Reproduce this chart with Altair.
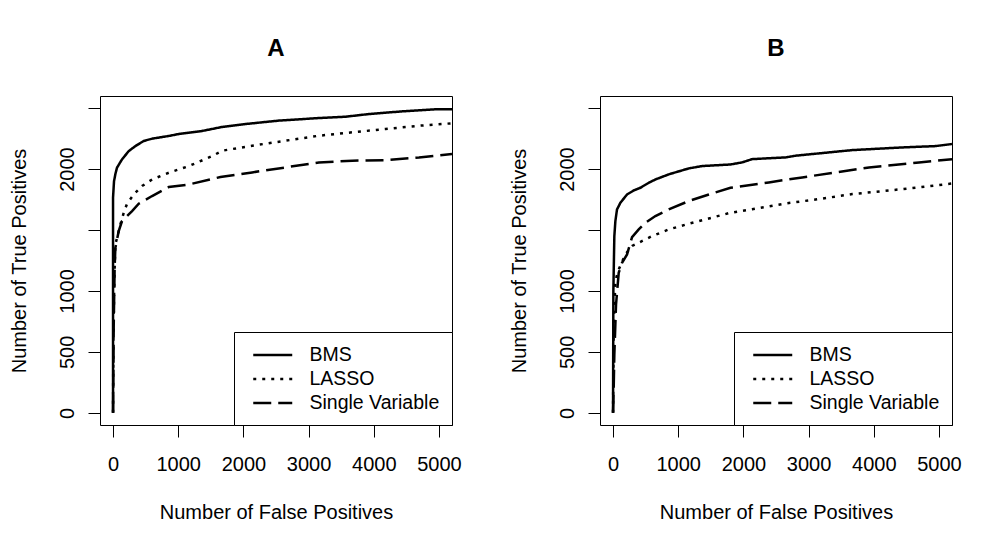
import altair as alt
import pandas as pd

SERIES = ["BMS", "LASSO", "Single Variable"]

# Panel A
A_bms_x = [0, 0, 15, 36, 61, 138, 241, 343, 471, 600, 855, 1008, 1367, 1674, 2032, 2544, 3158, 3567, 3926, 4437, 4949, 5200]
A_bms_y = [0, 1767, 1900, 1960, 2012, 2080, 2148, 2189, 2231, 2250, 2272, 2288, 2313, 2346, 2370, 2398, 2419, 2430, 2452, 2474, 2491, 2491]
A_lasso_x = [0, 5, 20, 36, 113, 164, 215, 318, 445, 599, 855, 1163, 1521, 1674, 2134, 2646, 3158, 3670, 4181, 4693, 5200]
A_lasso_y = [0, 600, 1100, 1382, 1546, 1642, 1716, 1792, 1861, 1915, 1970, 2025, 2107, 2151, 2192, 2233, 2274, 2302, 2329, 2356, 2376]
A_sv_x = [0, 10, 25, 36, 87, 138, 292, 394, 599, 855, 1163, 1648, 2134, 2646, 3158, 3670, 4181, 4693, 5200]
A_sv_y = [0, 700, 1200, 1355, 1491, 1574, 1656, 1716, 1779, 1853, 1874, 1935, 1973, 2014, 2055, 2069, 2074, 2096, 2124]

# Panel B
B_bms_x = [0, 5, 20, 36, 61, 113, 215, 318, 420, 548, 650, 855, 1163, 1367, 1802, 1980, 2134, 2646, 2800, 3158, 3670, 4437, 4949, 5200]
B_bms_y = [0, 1000, 1450, 1574, 1669, 1724, 1792, 1825, 1847, 1888, 1915, 1957, 2006, 2025, 2038, 2055, 2082, 2096, 2110, 2129, 2156, 2178, 2189, 2206]
B_lasso_x = [0, 10, 36, 77, 189, 292, 394, 599, 855, 1163, 1470, 1802, 2134, 2646, 3158, 3670, 4181, 4693, 5200]
B_lasso_y = [0, 700, 1081, 1163, 1300, 1369, 1396, 1450, 1505, 1552, 1595, 1642, 1671, 1718, 1754, 1795, 1822, 1850, 1882]
B_sv_x = [0, 10, 20, 46, 87, 138, 215, 292, 394, 496, 650, 855, 1163, 1470, 1802, 2390, 2902, 3414, 3926, 4693, 5200]
B_sv_y = [0, 200, 479, 889, 1149, 1231, 1300, 1442, 1505, 1560, 1615, 1669, 1738, 1792, 1847, 1891, 1932, 1973, 2014, 2055, 2082]

X_TICKS = [0, 1000, 2000, 3000, 4000, 5000]
Y_TICKS = [0, 500, 1000, 1500, 2000, 2500]
FONT = "Liberation Sans"


def make_df(parts):
    rows = []
    for name, xs, ys in parts:
        for i, (x, y) in enumerate(zip(xs, ys)):
            rows.append({"series": name, "fp": x, "tp": y, "idx": i})
    return pd.DataFrame(rows)


def panel(label, df):
    return (
        alt.Chart(df)
        .mark_line(clip=True, color="black", strokeWidth=2.5)
        .encode(
            x=alt.X(
                "fp:Q",
                scale=alt.Scale(domain=[-200, 5200], nice=False, zero=False),
                axis=alt.Axis(
                    values=X_TICKS,
                    format="d",
                    title="Number of False Positives",
                    labelBaseline="alphabetic",
                    labelPadding=33,
                    labelFlush=False,
                    labelOverlap=False,
                    titleBaseline="alphabetic",
                    titleY=93,
                ),
            ),
            y=alt.Y(
                "tp:Q",
                scale=alt.Scale(domain=[-100, 2600], nice=False, zero=False),
                axis=alt.Axis(
                    values=Y_TICKS,
                    format="d",
                    labelExpr="(datum.value == 1500 || datum.value == 2500) ? '' : datum.label",
                    title="Number of True Positives",
                    labelAngle=270,
                    labelAlign="center",
                    labelBaseline="alphabetic",
                    labelPadding=15,
                    labelFlush=False,
                    labelOverlap=False,
                    titleAngle=270,
                    titleAlign="center",
                    titleBaseline="alphabetic",
                    titleX=-75,
                    titleY=164.5,
                ),
            ),
            strokeDash=alt.StrokeDash(
                "series:N",
                scale=alt.Scale(domain=SERIES, range=[[1, 0], [3, 6], [18, 7]]),
                legend=alt.Legend(
                    title=None,
                    orient="bottom-right",
                    offset=0,
                    strokeColor="black",
                    fillColor="white",
                    padding=12,
                    symbolType="M-0.385,0H3.615",
                    symbolSize=380,
                    symbolStrokeWidth=2.5,
                    symbolStrokeColor="black",
                    labelFontSize=19.5,
                    labelFont=FONT,
                    labelColor="black",
                    labelOffset=41.5,
                    labelLimit=0,
                    rowPadding=3,
                    cornerRadius=0,
                ),
            ),
            order="idx:Q",
        )
        .properties(
            width=352,
            height=329,
            title=alt.TitleParams(
                text=label, fontSize=24, fontWeight="bold", font=FONT,
                color="black", anchor="middle", baseline="alphabetic", offset=16,
            ),
        )
    )


dfA = make_df([("BMS", A_bms_x, A_bms_y), ("LASSO", A_lasso_x, A_lasso_y), ("Single Variable", A_sv_x, A_sv_y)])
dfB = make_df([("BMS", B_bms_x, B_bms_y), ("LASSO", B_lasso_x, B_lasso_y), ("Single Variable", B_sv_x, B_sv_y)])

chart = (
    alt.hconcat(panel("A", dfA), panel("B", dfB), spacing=46)
    .resolve_scale(strokeDash="independent")
    .resolve_legend(strokeDash="independent")
    .properties(padding={"left": 0, "top": 28, "right": 0, "bottom": 0}, background="white")
    .configure_view(stroke="black", strokeWidth=1)
    .configure_axis(
        domain=False,
        grid=False,
        tickColor="black",
        tickSize=12,
        tickWidth=1,
        labelColor="black",
        labelFont=FONT,
        labelFontSize=20,
        titleColor="black",
        titleFont=FONT,
        titleFontSize=20,
        titleFontWeight="normal",
    )
)

chart.save("out.html", embed_options={"renderer": "svg", "actions": False})
